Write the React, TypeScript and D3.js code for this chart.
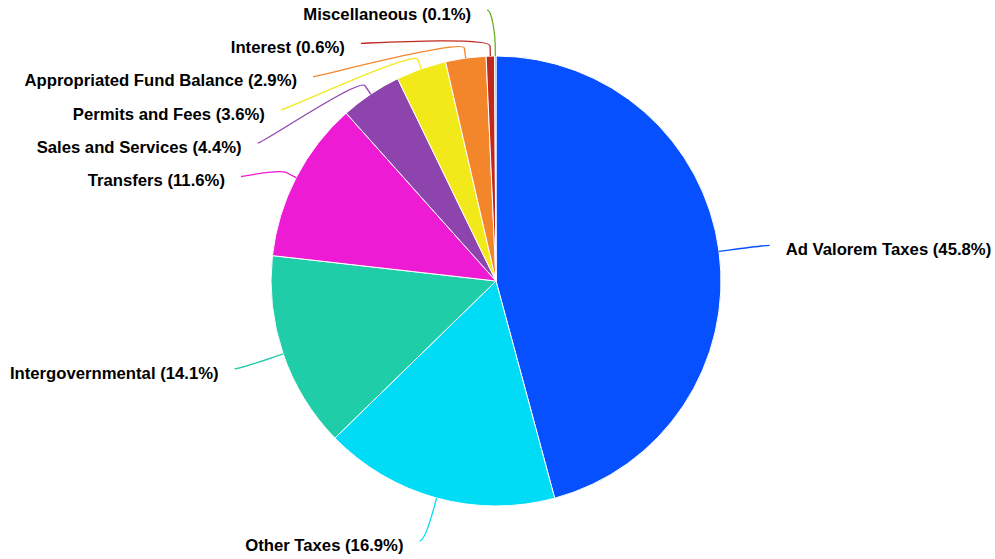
import { useEffect, useRef } from "react";
import * as d3 from "d3";

const categories = [
  "Ad Valorem Taxes",
  "Other Taxes",
  "Intergovernmental",
  "Transfers",
  "Sales and Services",
  "Permits and Fees",
  "Appropriated Fund Balance",
  "Interest",
  "Miscellaneous",
];
const shares = [45.8, 16.9, 14.1, 11.6, 4.4, 3.6, 2.9, 0.6, 0.1];
const colors = [
  "#0650ff",
  "#00dcf5",
  "#20cda9",
  "#ed1bd3",
  "#8e44ad",
  "#f1e91a",
  "#f3862b",
  "#c0281f",
  "#6ab023",
];

type Lbl = {
  i: number;
  mid: number;
  left: boolean;
  natY: number;
  natX: number;
  y: number;
  x: number;
};

export default function App() {
  const svgRef = useRef<SVGSVGElement | null>(null);

  useEffect(() => {
    const width = 995;
    const height = 559;
    const cx = 496;
    const cy = 281;
    const r = 225;
    const labelR = 271; // label anchor circle
    const pad = 5;
    const step = 33.3;
    const topY = 10;
    const bottomY = 541;

    document.body.style.margin = "0";

    const svg = d3
      .select(svgRef.current)
      .attr("width", width)
      .attr("height", height);
    svg.selectAll("*").remove();

    const pie = d3
      .pie<number>()
      .sort(null)
      .value((d) => d);
    const arcs = pie(shares);
    const arc = d3.arc<d3.PieArcDatum<number>>().innerRadius(0).outerRadius(r);

    const g = svg.append("g").attr("transform", `translate(${cx},${cy})`);

    // label positions
    const labels: Lbl[] = arcs.map((a, i) => {
      const mid = (a.startAngle + a.endAngle) / 2;
      const natX = cx + Math.sin(mid) * labelR;
      const natY = cy - Math.cos(mid) * labelR;
      return { i, mid, left: Math.sin(mid) < 0, natX, natY, y: natY, x: natX };
    });

    const distribute = (list: Lbl[]) => {
      list.sort((a, b) => a.natY - b.natY);
      let prev = -Infinity;
      list.forEach((l) => {
        l.y = Math.max(l.natY, topY, prev + step);
        prev = l.y;
      });
      // push back up from the bottom if needed
      let next = Infinity;
      for (let k = list.length - 1; k >= 0; k--) {
        const l = list[k];
        l.y = Math.min(l.y, bottomY, next - step);
        next = l.y;
      }
      list.forEach((l) => {
        const sgn = l.left ? -1 : 1;
        if (Math.abs(l.y - l.natY) < 3) {
          l.x = l.natX + sgn * (l.natY < cy - labelR + 2 ? pad + 3 : pad);
        } else {
          const dy = l.y - cy;
          const dx = Math.sqrt(Math.max(0, labelR * labelR - dy * dy));
          l.x = cx + sgn * (dx + pad);
        }
      });
    };
    distribute(labels.filter((l) => l.left));
    distribute(labels.filter((l) => !l.left));

    // slices
    g.selectAll("path.slice")
      .data(arcs)
      .join("path")
      .attr("class", "slice")
      .attr("d", arc)
      .attr("fill", (_, i) => colors[i])
      .attr("stroke", "#ffffff")
      .attr("stroke-width", 1)
      .attr("stroke-linejoin", "round");

    // connectors
    const brk = r + 10;
    svg
      .append("g")
      .selectAll("path")
      .data(labels)
      .join("path")
      .attr("fill", "none")
      .attr("stroke", (d) => colors[d.i])
      .attr("stroke-width", 1.3)
      .attr("d", (d) => {
        const tx = cx + Math.sin(d.mid) * r;
        const ty = cy - Math.cos(d.mid) * r;
        const bx = cx + Math.sin(d.mid) * brk;
        const by = cy - Math.cos(d.mid) * brk;
        const c1x = d.x + (d.left ? 5 : -5);
        const p = d3.path();
        p.moveTo(d.x, d.y);
        p.bezierCurveTo(c1x, d.y, 2 * bx - tx, 2 * by - ty, bx, by);
        p.lineTo(tx, ty);
        return p.toString();
      });

    // label text
    svg
      .append("g")
      .selectAll("text")
      .data(labels)
      .join("text")
      .attr("x", (d) => d.x + (d.left ? -16 : 16))
      .attr("y", (d) => d.y + 9.8)
      .attr("text-anchor", (d) => (d.left ? "end" : "start"))
      .attr("font-family", "'Liberation Sans', Arial, sans-serif")
      .attr("font-weight", "bold")
      .attr("font-size", 16.7)
      .attr("fill", "#000000")
      .text((d) => `${categories[d.i]} (${shares[d.i].toFixed(1)}%)`);
  }, []);

  return (
    <div style={{ position: "absolute", left: 0, top: 0 }}>
      <svg ref={svgRef} style={{ display: "block" }}></svg>
    </div>
  );
}
